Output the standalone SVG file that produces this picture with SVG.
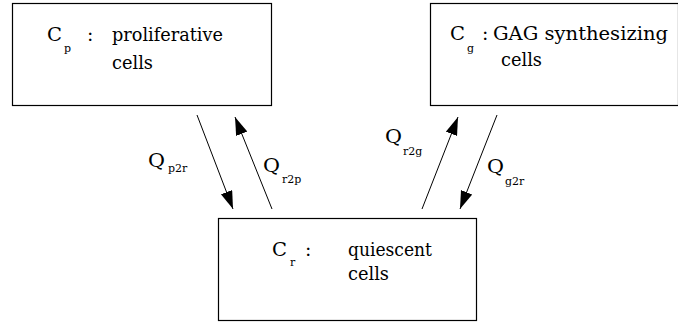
<svg xmlns="http://www.w3.org/2000/svg" width="678" height="325" viewBox="0 0 678 325">
<style>
.box{fill:#fff;stroke:#000;stroke-width:1.2}
text{font-family:'DejaVu Serif','Liberation Serif','Times New Roman',serif;fill:#000}
.t{font-size:19px}
.s{font-size:11px}
.c{stroke:#000;stroke-width:1;fill:none}
</style>
<defs>
<marker id="ah" markerUnits="userSpaceOnUse" markerWidth="20" markerHeight="14" refX="18" refY="6" orient="auto">
<path d="M0,0 L18,6 L0,12 z" fill="#000"/>
</marker>
</defs>
<rect width="678" height="325" fill="#fff"/>
<g id="node-cp">
<rect class="box" x="12.5" y="3.5" width="259" height="102"/>
<text class="t" x="47" y="41" textLength="15" lengthAdjust="spacingAndGlyphs">C</text>
<text class="s" x="64" y="52">p</text>
<text class="t" x="87" y="41">:</text>
<text class="t" x="112" y="41" textLength="111" lengthAdjust="spacingAndGlyphs">proliferative</text>
<text class="t" x="112" y="69" textLength="41" lengthAdjust="spacingAndGlyphs">cells</text>
</g>
<g id="node-cg">
<rect class="box" x="430.5" y="3.5" width="248" height="102"/>
<text class="t" x="450" y="40" textLength="15" lengthAdjust="spacingAndGlyphs">C</text>
<text class="s" x="467" y="52">g</text>
<text class="t" x="482" y="40">:</text>
<text class="t" x="493" y="40" textLength="175" lengthAdjust="spacingAndGlyphs">GAG synthesizing</text>
<text class="t" x="501" y="66" textLength="41" lengthAdjust="spacingAndGlyphs">cells</text>
</g>
<g id="node-cr">
<rect class="box" x="218.5" y="218.5" width="258" height="102"/>
<text class="t" x="272" y="256" textLength="15" lengthAdjust="spacingAndGlyphs">C</text>
<text class="s" x="290" y="266">r</text>
<text class="t" x="305" y="256">:</text>
<text class="t" x="348" y="256" textLength="84" lengthAdjust="spacingAndGlyphs">quiescent</text>
<text class="t" x="348" y="280" textLength="41" lengthAdjust="spacingAndGlyphs">cells</text>
</g>
<g id="connectors">
<line class="c" x1="197" y1="115" x2="233" y2="209" marker-end="url(#ah)"/>
<line class="c" x1="272" y1="209" x2="235" y2="117" marker-end="url(#ah)"/>
<line class="c" x1="422" y1="209" x2="458" y2="117" marker-end="url(#ah)"/>
<line class="c" x1="497" y1="115" x2="460" y2="209" marker-end="url(#ah)"/>
<text class="t" x="148" y="167" textLength="17" lengthAdjust="spacingAndGlyphs">Q</text>
<text class="s" x="168" y="172">p2r</text>
<text class="t" x="263" y="172" textLength="17" lengthAdjust="spacingAndGlyphs">Q</text>
<text class="s" x="282" y="183">r2p</text>
<text class="t" x="385" y="143" textLength="17" lengthAdjust="spacingAndGlyphs">Q</text>
<text class="s" x="403" y="155">r2g</text>
<text class="t" x="487" y="173" textLength="17" lengthAdjust="spacingAndGlyphs">Q</text>
<text class="s" x="505" y="185">g2r</text>
</g>
</svg>
